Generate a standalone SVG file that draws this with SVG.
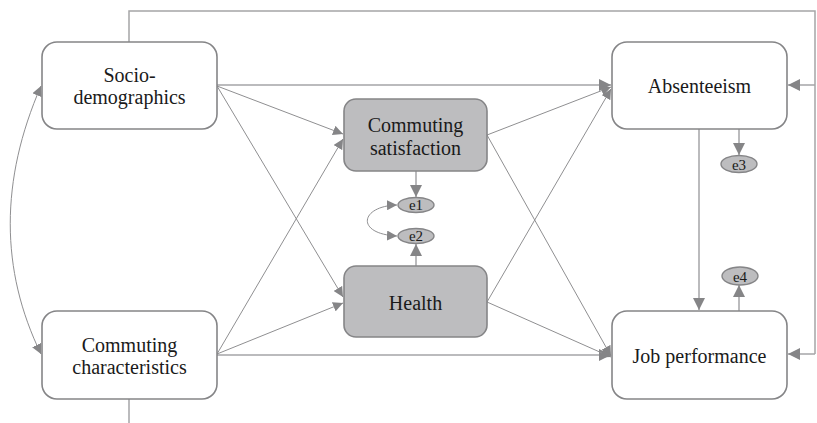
<svg xmlns="http://www.w3.org/2000/svg" width="817" height="423" viewBox="0 0 817 423">
<style>
.box{fill:#fff;stroke:#858587;stroke-width:1.6}
.gbox{fill:#bdbdbf;stroke:#858587;stroke-width:1.6}
.ell{fill:#bdbdbf;stroke:#858587;stroke-width:1.4}
.t{font-family:"Liberation Serif",serif;font-size:20px;fill:#1a1a1a;text-anchor:middle}
.te{font-family:"Liberation Serif",serif;font-size:15px;fill:#1a1a1a;text-anchor:middle}
.c{fill:none;stroke:#8f8f91;stroke-width:1}
.c2{fill:none;stroke:#a5a5a7;stroke-width:1.5}
</style>
<defs>
<marker id="ah" viewBox="0 0 10 10" refX="10" refY="5" markerWidth="10" markerHeight="10" markerUnits="userSpaceOnUse" orient="auto-start-reverse">
<path d="M0,0 L10,5 L0,10 z" fill="#858587"/>
</marker>
<marker id="ahb" viewBox="0 0 10 10" refX="10" refY="5" markerWidth="12" markerHeight="12" markerUnits="userSpaceOnUse" orient="auto-start-reverse">
<path d="M0,0 L10,5 L0,10 z" fill="#858587"/>
</marker>
</defs>
<g id="connectors">
<polyline class="c2" points="129,42 129,11 815,11 815,354"/>
<line class="c2" x1="815" y1="85" x2="788" y2="85" marker-end="url(#ahb)"/>
<line class="c2" x1="815" y1="354" x2="788" y2="354" marker-end="url(#ahb)"/>
<line class="c2" x1="129" y1="399" x2="129" y2="423"/>
<line class="c2" x1="217" y1="85" x2="611" y2="85" marker-end="url(#ahb)"/>
<line class="c2" x1="217" y1="355" x2="611" y2="355" marker-end="url(#ahb)"/>
<line class="c" x1="217" y1="86" x2="343" y2="134" marker-end="url(#ah)"/>
<line class="c" x1="217" y1="86" x2="343" y2="297" marker-end="url(#ah)"/>
<line class="c" x1="217" y1="354" x2="343" y2="139" marker-end="url(#ah)"/>
<line class="c" x1="217" y1="354" x2="343" y2="303" marker-end="url(#ah)"/>
<line class="c" x1="487" y1="135" x2="611" y2="87" marker-end="url(#ah)"/>
<line class="c" x1="487" y1="135" x2="611" y2="356" marker-end="url(#ah)"/>
<line class="c" x1="487" y1="302" x2="611" y2="89" marker-end="url(#ah)"/>
<line class="c" x1="487" y1="302" x2="611" y2="357" marker-end="url(#ah)"/>
<line class="c2" x1="699" y1="129" x2="699" y2="310" marker-end="url(#ahb)"/>
<line class="c2" x1="739" y1="129" x2="739" y2="155" marker-end="url(#ahb)"/>
<line class="c2" x1="739" y1="311" x2="739" y2="285" marker-end="url(#ahb)"/>
<line class="c2" x1="416" y1="171" x2="416" y2="197" marker-end="url(#ahb)"/>
<line class="c2" x1="416" y1="266" x2="416" y2="244" marker-end="url(#ahb)"/>
<path class="c" d="M397,205 C360,206 355,234 397,236" marker-start="url(#ah)" marker-end="url(#ah)"/>
<path class="c" d="M41,86 C0,180 0,270 41,354" marker-start="url(#ah)" marker-end="url(#ah)"/>
</g>
<g id="socio">
<rect class="box" x="42" y="42" width="175" height="87" rx="15"/>
<text class="t" x="129.5" y="82">Socio-</text>
<text class="t" x="129.5" y="104">demographics</text>
</g>
<g id="commchar">
<rect class="box" x="42" y="311" width="175" height="88" rx="15"/>
<text class="t" x="129.5" y="352">Commuting</text>
<text class="t" x="129.5" y="374">characteristics</text>
</g>
<g id="commsat">
<rect class="gbox" x="344" y="99" width="143" height="72" rx="12"/>
<text class="t" x="415.5" y="132">Commuting</text>
<text class="t" x="415.5" y="155">satisfaction</text>
</g>
<g id="health">
<rect class="gbox" x="344" y="266" width="143" height="71" rx="12"/>
<text class="t" x="415.5" y="310">Health</text>
</g>
<g id="absenteeism">
<rect class="box" x="612" y="42" width="175" height="87" rx="15"/>
<text class="t" x="699.5" y="93">Absenteeism</text>
</g>
<g id="jobperf">
<rect class="box" x="612" y="311" width="175" height="88" rx="15"/>
<text class="t" x="699.5" y="363">Job performance</text>
</g>
<g id="e1">
<ellipse class="ell" cx="416" cy="205" rx="18" ry="7.5"/>
<text class="te" x="416" y="210">e1</text>
</g>
<g id="e2">
<ellipse class="ell" cx="416" cy="236" rx="18" ry="7.5"/>
<text class="te" x="416" y="241">e2</text>
</g>
<g id="e3">
<ellipse class="ell" cx="739" cy="164" rx="18" ry="8.5"/>
<text class="te" x="739" y="169.5">e3</text>
</g>
<g id="e4">
<ellipse class="ell" cx="740" cy="276" rx="18" ry="9"/>
<text class="te" x="740" y="281.5">e4</text>
</g>
</svg>
